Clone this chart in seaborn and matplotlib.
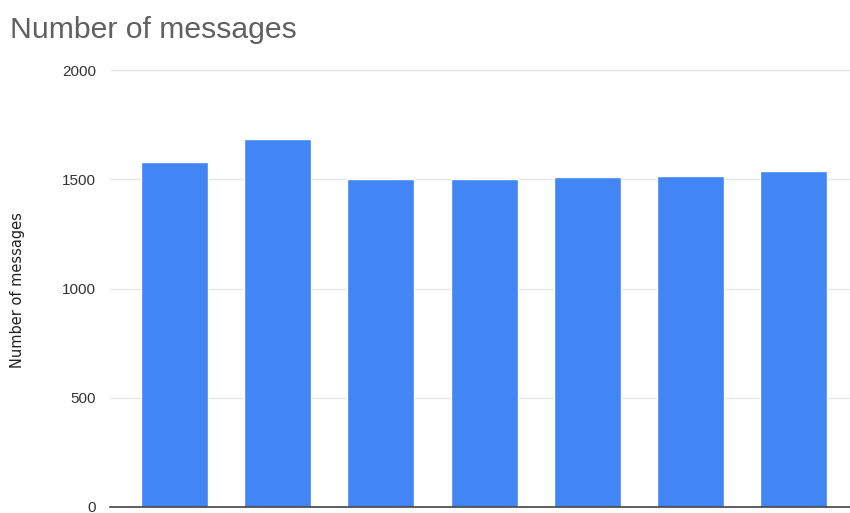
import matplotlib
matplotlib.use("Agg")
import matplotlib.pyplot as plt
import pandas as pd
import seaborn as sns

# Message counts per day
days = ["Mon", "Tue", "Wed", "Thu", "Fri", "Sat", "Sun"]
messages = [1577, 1682, 1500, 1500, 1512, 1517, 1540]
y_ticks = [0, 500, 1000, 1500, 2000]

df = pd.DataFrame({"day": days, "messages": messages})

sns.set_theme(style="white")
plt.rcParams["font.family"] = ["Liberation Sans", "DejaVu Sans"]

fig = plt.figure(figsize=(8.5, 5.13), dpi=100)
ax = fig.add_axes([110 / 850, 1 - 507 / 513, 740 / 850, (507 - 70) / 513])

sns.barplot(data=df, x="day", y="messages", color="#4285F4", saturation=1,
            width=0.65, ax=ax, zorder=3)

ax.set_ylim(0, 2000)
ax.set_xlim(-0.625, 6.545)
ax.set_yticks(y_ticks)
ax.set_yticklabels([str(t) for t in y_ticks], fontsize=11, color="#333333")
ax.tick_params(axis="y", length=0, pad=10)
ax.tick_params(axis="x", length=0, labelbottom=False)
ax.set_xlabel("")
ax.set_ylabel("")

ax.grid(axis="y", color="#e6e6e6", linewidth=1, zorder=0)
for side in ["top", "right", "left"]:
    ax.spines[side].set_visible(False)
ax.spines["bottom"].set_color("#444444")
ax.spines["bottom"].set_linewidth(1.2)
ax.spines["bottom"].set_zorder(4)

# Axis title and chart title
fig.text(18 / 850, 1 - 290 / 513, "Number of messages", rotation=90,
         fontsize=10.5, family=["DejaVu Sans"], color="#222222",
         ha="center", va="center")
fig.text(10 / 850, 1 - 38 / 513, "Number of messages", fontsize=21.7,
         color="#606060", ha="left", va="baseline")

fig.savefig("out.png", dpi=100, facecolor="white")
